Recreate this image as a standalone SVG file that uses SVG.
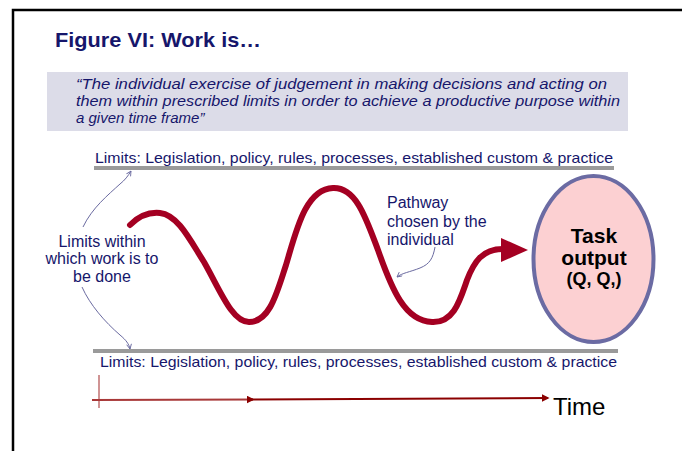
<svg xmlns="http://www.w3.org/2000/svg" width="682" height="451" viewBox="0 0 682 451">
  <defs>
    <style>
      .navy { fill: #16166b; font-family: "Liberation Sans", Arial, sans-serif; }
      .title { font-size: 21px; font-weight: bold; }
      .quote { font-size: 15px; font-style: italic; }
      .limit { font-size: 14.5px; }
      .note { font-size: 16px; text-anchor: middle; }
      .note-l { font-size: 16px; }
      .bar { stroke: #9a9a9a; stroke-width: 4; }
      .pointer { fill: none; stroke: #6a6aa0; stroke-width: 1; }
      .task { font-family: "Liberation Sans", Arial, sans-serif; font-weight: bold; fill: #000; text-anchor: middle; }
    </style>
    <marker id="tip" viewBox="0 0 10 10" refX="9" refY="5" markerWidth="6" markerHeight="6" orient="auto">
      <path d="M1,1 L9,5 L1,9" fill="none" stroke="#6a6aa0" stroke-width="1.5"/>
    </marker>
    <marker id="axisHead" viewBox="0 0 10 10" refX="8" refY="5" markerWidth="4" markerHeight="4" orient="auto">
      <path d="M0,0 L10,5 L0,10 Z" fill="#8b0000"/>
    </marker>
  </defs>

  <rect width="682" height="451" fill="#ffffff"/>

  <!-- page frame -->
  <path d="M13,451 V10 H682" fill="none" stroke="#000" stroke-width="2.5"/>

  <!-- heading -->
  <text class="navy title" x="55" y="47" textLength="206" lengthAdjust="spacingAndGlyphs">Figure VI:  Work is…</text>

  <!-- definition box -->
  <rect x="47" y="72" width="581" height="59" fill="#dcdce8"/>
  <text class="navy quote" x="76" y="89" textLength="531" lengthAdjust="spacingAndGlyphs">“The individual exercise of judgement in making decisions and acting on</text>
  <text class="navy quote" x="76" y="106" textLength="544" lengthAdjust="spacingAndGlyphs">them within prescribed limits in order to achieve a productive purpose within</text>
  <text class="navy quote" x="76" y="123">a given time frame”</text>

  <!-- upper limit -->
  <g id="limit-top">
    <text class="navy limit" x="95" y="163" textLength="518" lengthAdjust="spacingAndGlyphs">Limits: Legislation, policy, rules, processes, established custom &amp; practice</text>
    <line class="bar" x1="94" y1="168" x2="614" y2="168"/>
  </g>

  <!-- lower limit -->
  <g id="limit-bottom">
    <line class="bar" x1="93" y1="351" x2="618" y2="351"/>
    <text class="navy limit" x="100" y="367" textLength="517" lengthAdjust="spacingAndGlyphs">Limits: Legislation, policy, rules, processes, established custom &amp; practice</text>
  </g>

  <!-- side note -->
  <g id="limits-note">
    <text class="navy note" x="102" y="247">Limits within</text>
    <text class="navy note" x="102" y="264">which work is to</text>
    <text class="navy note" x="102" y="282">be done</text>
  </g>

  <!-- pathway note -->
  <g id="pathway-note">
    <text class="navy note-l" x="387" y="208">Pathway</text>
    <text class="navy note-l" x="387" y="227">chosen by the</text>
    <text class="navy note-l" x="387" y="245">individual</text>
  </g>

  <!-- task output -->
  <g id="task-output">
    <ellipse cx="593.5" cy="259" rx="60" ry="83" fill="#fcd0d2" stroke="#6b6ba3" stroke-width="4"/>
    <text class="task" x="594" y="243" font-size="21">Task</text>
    <text class="task" x="594" y="265" font-size="21">output</text>
    <text class="task" x="594" y="285" font-size="18">(Q, Q,)</text>
  </g>

  <g id="connectors">
    <!-- chosen pathway -->
    <path d="M130,225 C140,215 150,212 160,213 C178,215 190,240 204,262 C220,290 232,322 249,322 C270,322 277,292 286,265 C296,232 305,189 333,188 C356,187 366,218 378,250 C392,290 405,321 432,322 C454,323 460,300 467,280 C474,262 482,249 503,249" fill="none" stroke="#a40022" stroke-width="6" stroke-linecap="round"/>
    <path d="M501,238 L528,250 L501,262 Z" fill="#a40022"/>

    <!-- pointers from the notes -->
    <path class="pointer" d="M83,227 C92,208 108,195 120,184 C125,180 128,176 131,171" marker-end="url(#tip)"/>
    <path class="pointer" d="M82,287 C90,305 105,322 120,335 C126,340 129,344 130,349" marker-end="url(#tip)"/>
    <path class="pointer" d="M435,247 C433,258 430,264 420,268 C410,272 402,273 397,277" marker-end="url(#tip)"/>

    <!-- time axis -->
    <line x1="99" y1="375" x2="99" y2="408" stroke="#c07070" stroke-width="1.5"/>
    <line x1="92" y1="400" x2="253" y2="399.5" stroke="#a83838" stroke-width="2" marker-end="url(#axisHead)"/>
    <line x1="250" y1="399.5" x2="548" y2="398" stroke="#8b0000" stroke-width="2" marker-end="url(#axisHead)"/>
  </g>

  <text x="553" y="415" font-family="'Liberation Sans', Arial, sans-serif" font-size="24" fill="#000">Time</text>
</svg>
